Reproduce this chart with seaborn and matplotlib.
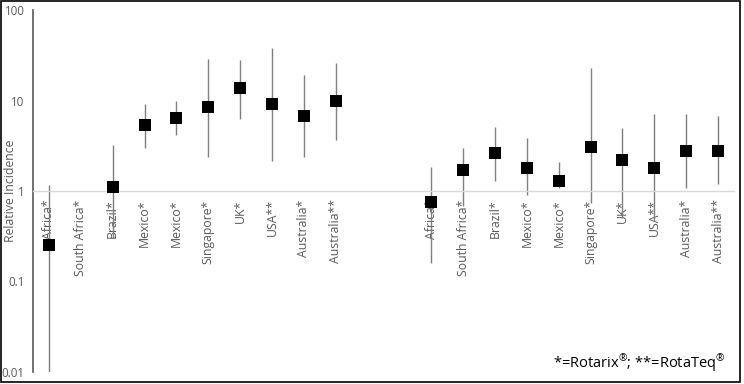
import matplotlib
matplotlib.use("Agg")
import matplotlib.pyplot as plt
import seaborn as sns
import numpy as np
import pandas as pd
from matplotlib.patches import Rectangle

# ---- data ----
categories = ["Africa*", "South Africa*", "Brazil*", "Mexico*", "Mexico*",
              "Singapore*", "UK*", "USA**", "Australia*", "Australia**"]

left_ri = [0.25, np.nan, 1.1, 5.3, 6.45, 8.4, 13.7, 9.1, 6.8, 10.0]
left_lo = [0.01, np.nan, 0.30, 3.0, 4.2, 2.4, 6.3, 2.15, 2.4, 3.7]
left_hi = [1.16, np.nan, 3.2, 9.2, 10.0, 29.0, 28.0, 38.0, 19.0, 26.0]

right_ri = [0.76, 1.69, 2.6, 1.78, 1.29, 3.09, 2.2, 1.81, 2.8, 2.8]
right_lo = [0.16, 0.68, 1.29, 0.90, 1.09, 0.74, 0.50, 0.47, 1.09, 1.19]
right_hi = [1.86, 3.0, 5.1, 3.85, 2.07, 23.0, 5.0, 7.1, 7.1, 6.7]

gap_labels = ["", ""]
y_ticks = [0.01, 0.1, 1, 10, 100]
y_tick_labels = ["0.01", "0.1", "1", "10", "100"]
note_text = "*=Rotarix$^{\u00ae}$; **=RotaTeq$^{\u00ae}$"

# ---- build table ----
all_labels = categories + gap_labels + categories
ri = left_ri + [np.nan, np.nan] + right_ri
lo = left_lo + [np.nan, np.nan] + right_lo
hi = left_hi + [np.nan, np.nan] + right_hi
df = pd.DataFrame({"pos": np.arange(len(all_labels)), "label": all_labels,
                   "ri": ri, "lo": lo, "hi": hi})

sns.set_theme(style="white")
plt.rcParams["font.family"] = ["Open Sans", "DejaVu Sans"]
plt.rcParams["mathtext.fontset"] = "custom"
plt.rcParams["mathtext.rm"] = "Open Sans"
plt.rcParams["mathtext.it"] = "Open Sans"
plt.rcParams["mathtext.default"] = "rm"

fig = plt.figure(figsize=(7.44, 3.84), dpi=100)
ax = fig.add_axes([33 / 744, 1 - 372 / 384, (734 - 33) / 744, (372 - 10) / 384])

d = df.dropna(subset=["ri"])
ax.vlines(d["pos"], d["lo"], d["hi"], color="#7f7f7f", linewidth=1.0, zorder=2)
sns.scatterplot(data=d, x="pos", y="ri", marker="s", s=84, color="black",
                linewidth=0, ax=ax, zorder=3, legend=False)

ax.set_yscale("log")
ax.set_ylim(0.01, 100)
ax.set_xlim(-0.5, len(all_labels) - 0.5)

for side in ["top", "right"]:
    ax.spines[side].set_visible(False)
ax.spines["bottom"].set_position(("data", 1))
ax.spines["bottom"].set_color("#d9d9d9")
ax.spines["bottom"].set_linewidth(1.0)
ax.spines["left"].set_color("#595959")
ax.spines["left"].set_linewidth(1.2)

ax.set_yticks(y_ticks)
ax.set_yticklabels(y_tick_labels)
ax.minorticks_off()
ax.tick_params(axis="y", length=0, pad=6, labelsize=8.3, labelcolor="#595959")

ax.set_xticks(df["pos"])
ax.set_xticklabels(df["label"])
ax.tick_params(axis="x", length=0, pad=6, labelsize=8.8, labelcolor="#595959",
               labelrotation=90)

ax.set_xlabel("")
ax.set_ylabel("Relative Incidence", fontsize=8.8, color="#595959")
ax.yaxis.set_label_coords(-0.0225, 0.5)

fig.text(726 / 744, 1 - 363 / 384, note_text, ha="right", va="center",
         fontsize=10.5, color="black")

fig.patches.append(Rectangle((0.5 / 744, 1 - 382 / 384), 739 / 744, 381.5 / 384,
                             transform=fig.transFigure, fill=False,
                             edgecolor="black", linewidth=1.2))

fig.savefig("out.png", dpi=100)
